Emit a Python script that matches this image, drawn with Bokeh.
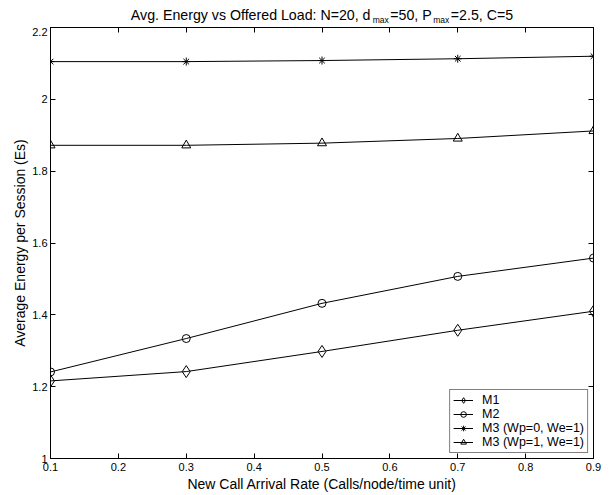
from bokeh.plotting import figure
from bokeh.layouts import column
from bokeh.models import (Label, LinearAxis, FixedTicker, Legend, LegendItem,
                          Range1d, CustomJSTickFormatter)
from bokeh.embed import file_html
from bokeh.resources import INLINE

# ---- data ----
rate = [0.1, 0.3, 0.5, 0.7, 0.9]
m1 = [1.216, 1.242, 1.298, 1.357, 1.410]
m2 = [1.241, 1.334, 1.432, 1.507, 1.558]
m3_wp0 = [2.105, 2.105, 2.108, 2.113, 2.120]
m3_wp1 = [1.872, 1.872, 1.878, 1.891, 1.912]
series_names = ["M1", "M2", "M3 (Wp=0, We=1)", "M3 (Wp=1, We=1)"]
x_ticks = [0.1, 0.2, 0.3, 0.4, 0.5, 0.6, 0.7, 0.8, 0.9]
y_ticks = [1, 1.2, 1.4, 1.6, 1.8, 2, 2.2]

FONT = "Liberation Sans"
W = 613
TITLE_H = 27
MAIN_H = 495 - TITLE_H
LEFT, RIGHT = 50, 20

# ---- main plot ----
p = figure(width=W, height=MAIN_H, output_backend="svg", toolbar_location=None,
           x_range=Range1d(0.1, 0.9), y_range=Range1d(1.0, 2.2),
           min_border_left=LEFT, min_border_right=RIGHT, min_border_top=0,
           min_border_bottom=37, background_fill_color="white",
           border_fill_color="white")
p.xgrid.visible = False
p.ygrid.visible = False
p.outline_line_color = "black"
p.outline_line_width = 1

fmt = CustomJSTickFormatter(code="return String(Math.round(tick*10)/10);")
for ax in (p.xaxis[0], p.yaxis[0]):
    ax.major_tick_in = 5
    ax.major_tick_out = 0
    ax.minor_tick_line_color = None
    ax.axis_line_color = "black"
    ax.major_tick_line_color = "black"
    ax.major_label_text_font = FONT
    ax.major_label_text_font_size = "11px"
    ax.major_label_text_color = "black"
    ax.axis_label_text_font = FONT
    ax.axis_label_text_font_size = "14px"
    ax.axis_label_text_font_style = "normal"
    ax.axis_label_text_color = "black"
    ax.formatter = fmt
p.xaxis[0].ticker = FixedTicker(ticks=x_ticks)
p.yaxis[0].ticker = FixedTicker(ticks=y_ticks)
p.xaxis[0].axis_label = "New Call Arrival Rate (Calls/node/time unit)"
p.yaxis[0].axis_label = "Average Energy per Session (Es)"
p.xaxis[0].major_label_standoff = 4
p.xaxis[0].axis_label_standoff = 2
p.yaxis[0].major_label_standoff = 3
p.yaxis[0].axis_label_standoff = 1

blank = CustomJSTickFormatter(code="return '';")
for loc, ticks in (("right", y_ticks), ("above", x_ticks)):
    ax = LinearAxis(ticker=FixedTicker(ticks=ticks), formatter=blank)
    ax.major_tick_in = 5
    ax.major_tick_out = 0
    ax.minor_tick_line_color = None
    ax.axis_line_color = "black"
    ax.major_label_standoff = 0
    ax.major_label_text_font_size = "0px"
    p.add_layout(ax, loc)

specs = [(m1, "diamond", 12), (m2, "circle", 8), (m3_wp0, "asterisk", 8),
         (m3_wp1, "triangle", 9)]
items = []
for (vals, marker, size), name in zip(specs, series_names):
    r1 = p.line(rate, vals, line_color="black", line_width=1)
    r2 = p.scatter(rate, vals, marker=marker, size=size, line_color="black",
                   fill_color=None, line_width=1)
    items.append(LegendItem(label=name, renderers=[r1, r2]))

legend = Legend(items=items, location="bottom_right", margin=5, padding=3,
                spacing=0, glyph_width=20, glyph_height=14, label_height=14,
                label_standoff=9, label_text_font=FONT,
                label_text_font_size="12.5px", label_text_color="black",
                border_line_color="black", border_line_width=1,
                background_fill_alpha=1)
p.add_layout(legend)

# ---- title strip with subscripts ----
tf = figure(width=W, height=TITLE_H, output_backend="svg", toolbar_location=None,
            x_range=Range1d(0, 1), y_range=Range1d(0, 1),
            min_border_left=LEFT, min_border_right=RIGHT, min_border_top=0,
            min_border_bottom=0, background_fill_color="white",
            border_fill_color="white")
tf.axis.visible = False
tf.grid.visible = False
tf.outline_line_color = None

ARIAL = {' ': 278, '.': 278, ',': 278, ':': 278, '=': 584, 'A': 667, 'C': 722,
         'E': 667, 'L': 556, 'N': 722, 'O': 778, 'P': 667, 'a': 556, 'd': 556,
         'e': 556, 'f': 278, 'g': 556, 'm': 833, 'n': 556, 'o': 556, 'r': 333,
         's': 500, 'v': 500, 'x': 500, 'y': 500}


def tw(s, size):
    return sum(ARIAL.get(c, 556) for c in s) * size / 1000.0


MAIN_FS, SUB_FS = 14.2, 8.5
pieces = [("Avg. Energy vs Offered Load: N=20, d", MAIN_FS, 0), ("max", SUB_FS, -5),
          ("=50, P", MAIN_FS, 0), ("max", SUB_FS, -5), ("=2.5, C=5", MAIN_FS, 0)]
gap = 1.5
total = sum(tw(s, sz) for s, sz, _ in pieces) + 4 * gap
frame_w = W - LEFT - RIGHT
x0 = frame_w / 2 - total / 2  # frame-relative screen units
base = TITLE_H - 14.5
for s, sz, dy in pieces:
    tf.add_layout(Label(x=x0, y=base + dy, x_units="screen", y_units="screen",
                        text=s, text_font=FONT, text_font_size=f"{sz}px",
                        text_color="black", text_baseline="alphabetic",
                        text_align="left"))
    x0 += tw(s, sz) + gap

layout = column(tf, p, spacing=0)
open("out.html", "w").write(file_html(layout, INLINE))
